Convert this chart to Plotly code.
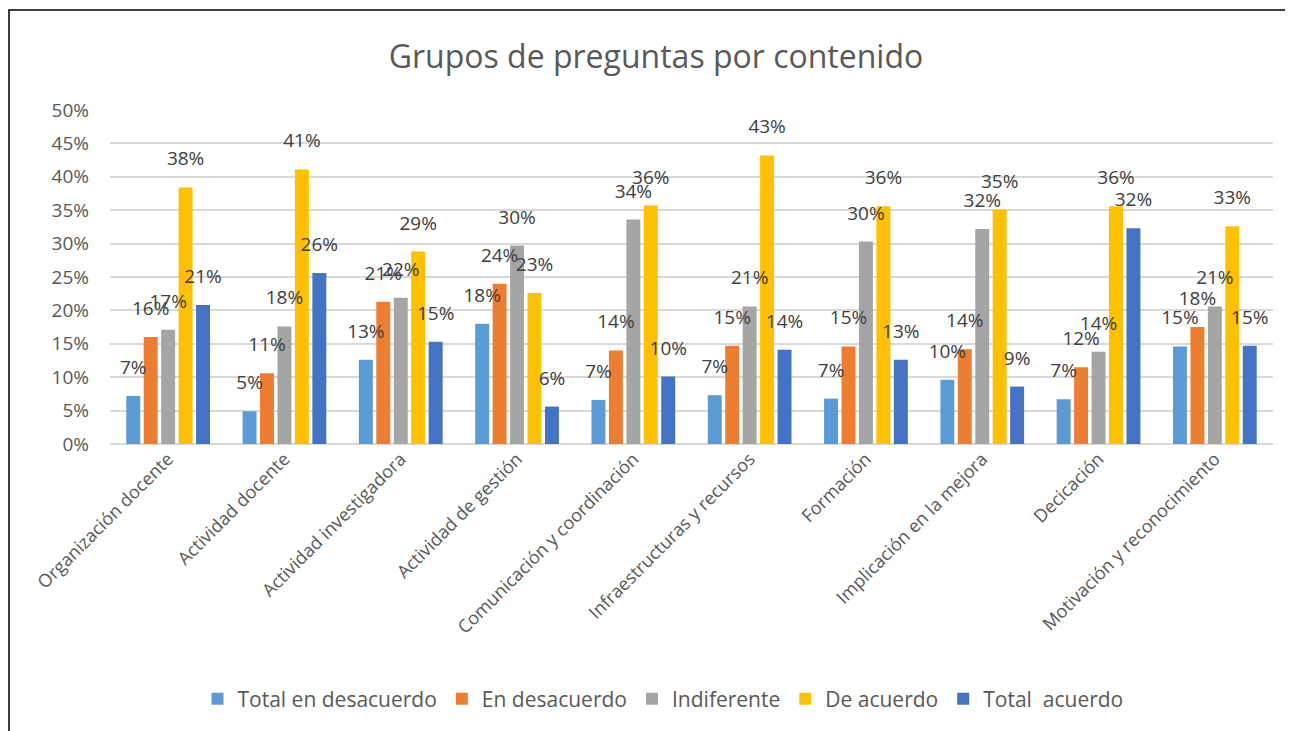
import plotly.graph_objects as go

categories = ["Organización docente", "Actividad docente", "Actividad investigadora",
              "Actividad de gestión", "Comunicación y coordinación", "Infraestructuras y recursos",
              "Formación", "Implicación en la mejora", "Decicación", "Motivación y reconocimiento"]

series_names = ["Total en desacuerdo", "En desacuerdo", "Indiferente", "De acuerdo", "Total  acuerdo"]

total_desacuerdo = [0.072, 0.049, 0.126, 0.180, 0.066, 0.073, 0.068, 0.096, 0.067, 0.146]
en_desacuerdo    = [0.160, 0.106, 0.213, 0.240, 0.140, 0.147, 0.146, 0.142, 0.115, 0.175]
indiferente      = [0.171, 0.176, 0.219, 0.297, 0.336, 0.206, 0.303, 0.322, 0.138, 0.206]
de_acuerdo       = [0.384, 0.411, 0.288, 0.226, 0.357, 0.432, 0.356, 0.351, 0.356, 0.326]
total_acuerdo    = [0.208, 0.256, 0.153, 0.056, 0.101, 0.141, 0.126, 0.086, 0.323, 0.147]

colors = ["#5B9BD5", "#ED7D31", "#A5A5A5", "#FFC000", "#4472C4"]
values = [total_desacuerdo, en_desacuerdo, indiferente, de_acuerdo, total_acuerdo]

font_family = "Open Sans, Noto Sans, sans-serif"

# page body adds an 8px margin; the figure is sized so the plot lands where the reference has it
W, H = 1285, 723
L, R, T, B = 102, 20, 102, 287
plot_w = W - L - R
plot_h = H - T - B

fig = go.Figure()
for name, vals, col in zip(series_names, values, colors):
    fig.add_trace(go.Bar(
        name=name, x=categories, y=vals, marker_color=col, marker_line_width=0,
        hoverinfo="x+y",
    ))
for name, vals in zip(series_names, values):
    fig.add_trace(go.Scatter(
        name=name, x=categories, y=vals, mode="markers+text",
        marker=dict(size=26, color="rgba(0,0,0,0)"),
        texttemplate="%{y:.0%}", textposition="top center",
        textfont=dict(size=19, color="#404040", family=font_family),
        showlegend=False, cliponaxis=False, hoverinfo="skip",
    ))

fig.update_layout(
    width=W, height=H,
    margin=dict(l=L, r=R, t=T, b=B),
    paper_bgcolor="white", plot_bgcolor="white",
    barmode="group", bargap=0.25, bargroupgap=0.2,
    scattermode="group", scattergap=0.25,
    title=dict(text="Grupos de preguntas por contenido", x=648 / W, xanchor="center",
               y=1 - 49 / H, yanchor="middle",
               font=dict(size=32, color="#595959", family=font_family)),
    font=dict(family=font_family, color="#595959"),
    legend=dict(orientation="h", x=(655 - L) / plot_w, xanchor="center",
                y=(T + plot_h - 691) / plot_h, yanchor="middle",
                font=dict(size=21, color="#595959", family=font_family),
                itemwidth=30, traceorder="normal"),
    showlegend=True,
)
fig.update_yaxes(range=[0, 0.5], dtick=0.05, tickformat=".0%", showgrid=True,
                 gridcolor="#D9D9D9", gridwidth=1.5, zeroline=True, zerolinecolor="#D9D9D9",
                 zerolinewidth=1.5, showline=False, ticks="",
                 tickfont=dict(size=19, color="#595959"), ticklabelstandoff=20)
fig.update_xaxes(tickangle=-45, tickfont=dict(size=18, color="#595959"), showline=False,
                 ticks="", showgrid=False)

# outer frame of the chart area
fig.add_shape(type="rect", xref="paper", yref="paper",
              x0=(1 - L) / plot_w, x1=(1282 - L) / plot_w,
              y0=(T + plot_h - 740) / plot_h, y1=(T + plot_h - 2) / plot_h,
              line=dict(color="#000000", width=1.5), fillcolor="rgba(0,0,0,0)", layer="below")

fig.write_html("out.html")
